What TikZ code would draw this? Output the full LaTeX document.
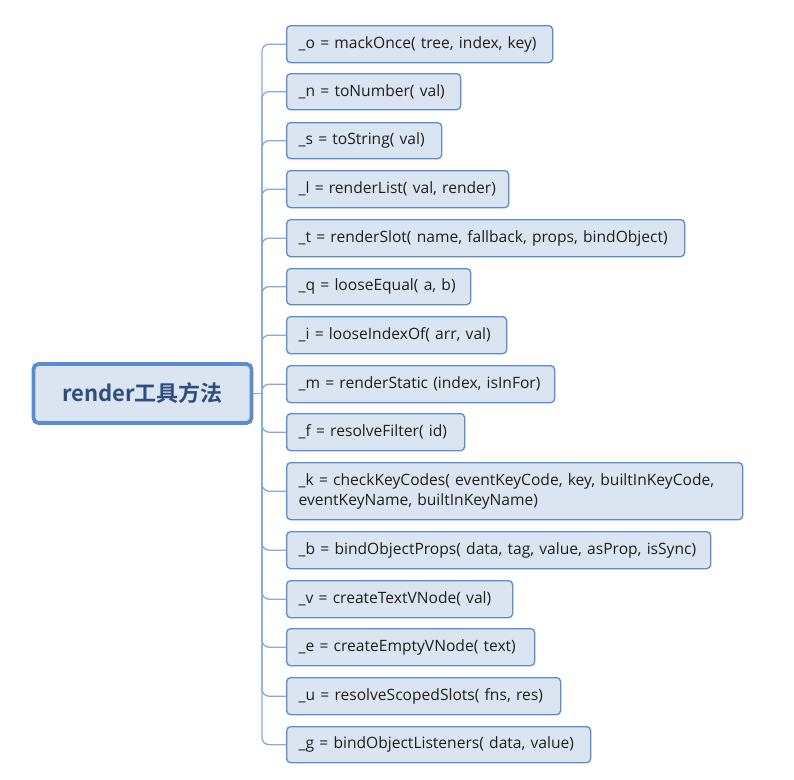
\documentclass[tikz,border=0pt]{standalone}
\usepackage{fontspec}
\setmainfont{Open Sans}
\newfontfamily\cjkb[BoldFont={Noto Sans CJK SC Bold}]{Noto Sans CJK SC}
\definecolor{boxfill}{HTML}{DBE5F1}
\definecolor{boxline}{HTML}{5A8CD2}
\definecolor{connline}{HTML}{86AADC}
\definecolor{roottext}{HTML}{2F4E7D}
\definecolor{childtext}{HTML}{1E1E1E}
\begin{document}
\begin{tikzpicture}[x=1pt,y=-1pt,
  rootbox/.style={draw=boxline, line width=3.8pt, fill=boxfill, rounded corners=5pt,
    minimum width=218pt, minimum height=59pt, font=\cjkb\bfseries\fontsize{22}{26}\selectfont, text=roottext},
  childbox/.style={draw=boxline, line width=1.3pt, fill=boxfill, rounded corners=4pt,
    anchor=north west, align=left, inner xsep=12pt, inner ysep=0pt,
    font=\fontsize{15.6}{20}\selectfont, text=childtext},
  conn/.style={draw=connline, line width=1.3pt, rounded corners=7pt}]
\useasboundingbox (0,0) rectangle (794,779);
\node[rootbox] (root) at (142.5,393.5) {render工具方法};
\coordinate (hub) at (262,393.5);
\def\mk#1#2#3#4#5{\node[childbox, text width=#3-24pt, minimum height=#4] (#1) at (286,#2) {#5};}
\mk{c1}{25}{266pt}{37pt}{\_o = mackOnce( tree, index, key)}
\mk{c2}{73}{174pt}{36pt}{\_n = toNumber( val)}
\mk{c3}{122}{155pt}{36pt}{\_s = toString( val)}
\mk{c4}{170}{222pt}{37pt}{\_l = renderList( val, render)}
\mk{c5}{219}{398pt}{37pt}{\_t = renderSlot( name, fallback, props, bindObject)}
\mk{c6}{268}{184pt}{36pt}{\_q = looseEqual( a, b)}
\mk{c7}{316}{220pt}{37pt}{\_i = looseIndexOf( arr, val)}
\mk{c8}{365}{268pt}{37pt}{\_m = renderStatic (index, isInFor)}
\mk{c9}{413}{178pt}{37pt}{\_f = resolveFilter( id)}
\mk{c10}{462}{456pt}{57pt}{\_k = checkKeyCodes( eventKeyCode, key, builtInKeyCode,\\eventKeyName, builtInKeyName)}
\mk{c11}{531}{424pt}{37pt}{\_b = bindObjectProps( data, tag, value, asProp, isSync)}
\mk{c12}{580}{226pt}{37pt}{\_v = createTextVNode( val)}
\mk{c13}{628}{248pt}{37pt}{\_e = createEmptyVNode( text)}
\mk{c14}{677}{274pt}{37pt}{\_u = resolveScopedSlots( fns, res)}
\mk{c15}{726}{304pt}{36pt}{\_g = bindObjectListeners( data, value)}
\draw[conn] (root.east) -- (hub);
\foreach \c in {c1,c2,c3,c4,c5,c6,c7,c8,c9,c10,c11,c12,c13,c14,c15}
  \draw[conn] (hub) |- (\c.west);
\end{tikzpicture}
\end{document}
